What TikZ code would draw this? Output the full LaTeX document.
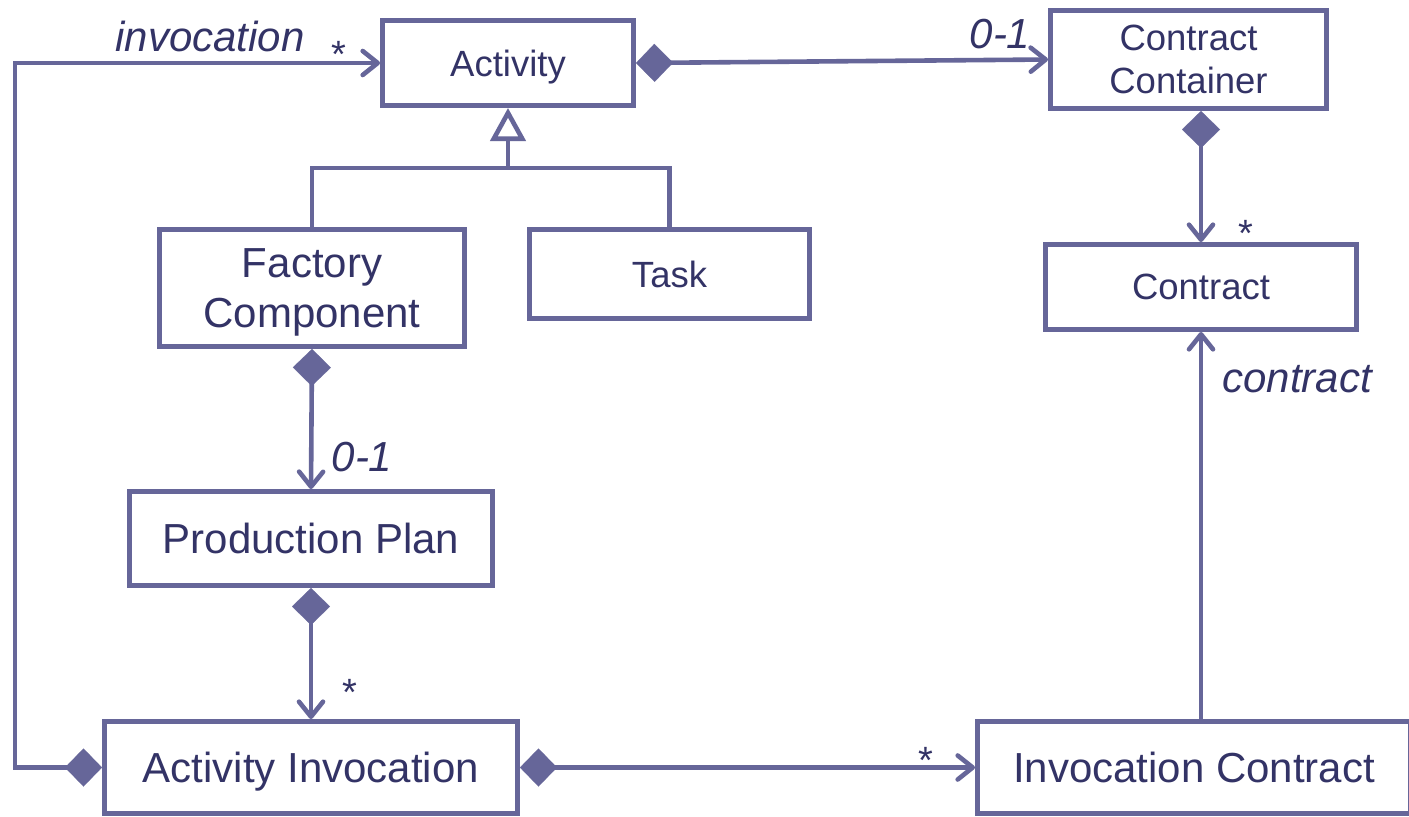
\documentclass[tikz,border=0pt]{standalone}
\usepackage{fontspec}
\setmainfont{Liberation Sans}
\usetikzlibrary{arrows.meta,calc}
\definecolor{umlline}{RGB}{102,102,153}
\definecolor{umltext}{RGB}{51,51,102}

\begin{document}
\begin{tikzpicture}[x=1pt,y=-1pt,
  cls/.style={draw=umlline, line width=5pt, fill=white, text=umltext,
    align=center, inner sep=0pt, text depth=0pt},
  big/.style={font=\fontsize{42}{50}\selectfont},
  mid/.style={font=\fontsize{36.5}{43}\selectfont},
  conn/.style={draw=umlline, line width=4.6pt},
  comp/.style={conn, {Diamond[length=37pt,width=38pt,line width=0.1pt,fill=umlline]}-{Straight Barb[length=15pt,width=24pt,round]}},
  assoc/.style={conn, -{Straight Barb[length=15pt,width=24pt,round]}},
  inherit/.style={conn, -{Triangle[open,length=33pt,width=35pt,fill=white]}},
  lbl/.style={text=umltext, inner sep=0pt, anchor=base,
    font=\fontsize{42}{50}\selectfont\itshape},
  mult/.style={text=umltext, inner sep=0pt, anchor=base,
    font=\fontsize{38}{46}\selectfont}
]
\useasboundingbox (0,0) rectangle (1409,817);
\fill[white] (0,0) rectangle (1409,817);

% classes
\node[cls, mid, minimum width=251pt, minimum height=85pt] (act) at (508,63) {Activity};
\node[cls, mid, minimum width=276pt, minimum height=98pt] (cc) at (1188.5,59.5) {Contract\\Container};
\node[cls, mid, minimum width=311pt, minimum height=85pt] (con) at (1201,287) {Contract};
\node[cls, big, minimum width=305pt, minimum height=117pt] (fc) at (312,288) {Factory\\Component};
\node[cls, mid, minimum width=280pt, minimum height=89pt] (task) at (669.5,274) {Task};
\node[cls, big, minimum width=363pt, minimum height=94pt] (pp) at (311,538.5) {Production Plan};
\node[cls, big, minimum width=413pt, minimum height=92pt] (ai) at (311,767.5) {Activity Invocation};
\node[cls, big, minimum width=433pt, minimum height=92pt] (ic) at (1194,767.5) {Invocation Contract};

% generalization of Factory Component and Task
\coordinate (gj) at (508,168);
\draw[conn] (fc.north) |- (gj) -| (task.north);
\draw[inherit] (gj) -- (act.south);

% compositions and associations
\draw[comp] (ai.west) -- ++(-87,0) |- (act.west);
\draw[comp] (act.east) -- (cc.west);
\draw[comp] (cc.south -| con.north) -- (con.north);
\draw[comp] (fc.south) -- (pp.north);
\draw[comp] (pp.south) -- (ai.north);
\draw[comp] (ai.east) -- (ic.west);
\draw[assoc] (con.south |- ic.north) -- (con.south);

% role names and multiplicities
\node[lbl] (linv) at (210,51) {invocation};
\node[mult] (minv) at (339,67) {*};
\node[lbl] (lcc) at (1000,48) {0-1};
\node[mult] (mcon) at (1246,246) {*};
\node[lbl] (lcon) at (1297,392) {contract};
\node[lbl] (lpp) at (362,471) {0-1};
\node[mult] (mai) at (350,705) {*};
\node[mult] (mic) at (926,773) {*};
\end{tikzpicture}
\end{document}
